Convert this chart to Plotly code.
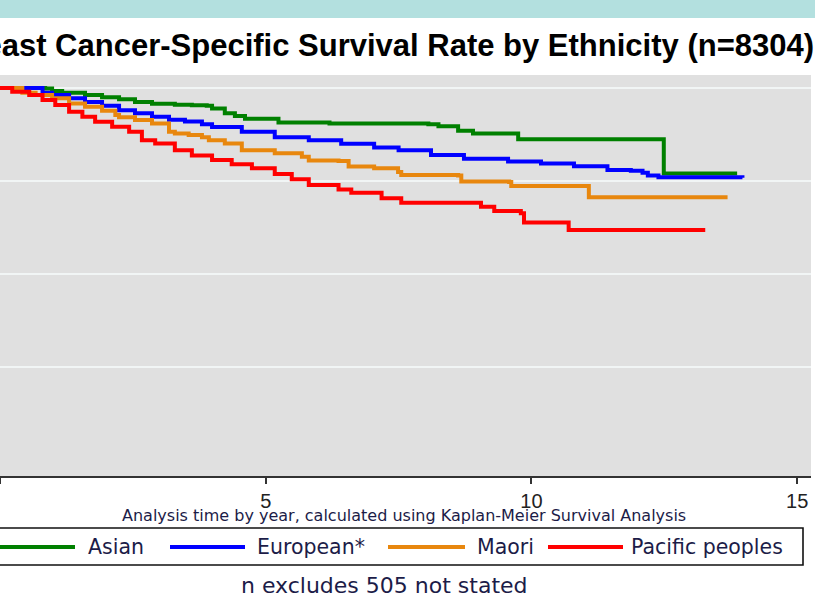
import plotly.graph_objects as go

# ---------------- data ----------------
series_names = ["Asian", "European*", "Maori", "Pacific peoples"]
series_colors = ["#008000", "#0000ff", "#e8870e", "#ff0000"]

asian_t = [0, 0.85, 0.98, 1.17, 1.60, 1.92, 2.24, 2.54, 2.86, 3.29, 3.61, 3.89, 3.99, 4.23,
           4.42, 4.61, 5.24, 6.20, 8.06, 8.25, 8.62, 8.90, 9.75, 12.49, 13.87]
asian_s = [1.000, 0.9995, 0.9968, 0.995, 0.9925, 0.990, 0.988, 0.985, 0.983, 0.982, 0.9815,
           0.981, 0.978, 0.973, 0.970, 0.967, 0.963, 0.962, 0.961, 0.959, 0.954, 0.951,
           0.945, 0.908, 0.908]

european_t = [0, 0.80, 0.98, 1.30, 1.60, 1.92, 2.24, 2.54, 2.86, 3.18, 3.48, 3.80, 3.99,
              4.55, 5.17, 5.81, 6.42, 7.04, 7.50, 8.11, 8.73, 9.56, 10.18, 10.80, 11.43,
              11.87, 12.09, 12.19, 12.39, 13.97]
european_s = [1.000, 0.995, 0.9925, 0.989, 0.985, 0.981, 0.976, 0.973, 0.969, 0.966, 0.964,
              0.961, 0.958, 0.953, 0.947, 0.944, 0.940, 0.936, 0.933, 0.928, 0.924, 0.921,
              0.919, 0.916, 0.912, 0.911, 0.909, 0.906, 0.904, 0.9035]

maori_t = [0, 0.42, 0.67, 0.98, 1.30, 1.60, 1.92, 2.17, 2.24, 2.54, 2.86, 3.18, 3.29, 3.55,
           3.80, 3.93, 4.23, 4.55, 5.17, 5.68, 5.81, 6.37, 6.56, 7.04, 7.49, 7.55, 8.62,
           8.68, 9.58, 9.62, 11.08, 13.69]
maori_s = [1.000, 0.995, 0.9925, 0.989, 0.9835, 0.980, 0.9756, 0.971, 0.9685, 0.9656,
           0.962, 0.953, 0.951, 0.9495, 0.947, 0.944, 0.9405, 0.933, 0.930, 0.926, 0.922,
           0.9215, 0.9156, 0.9137, 0.9097, 0.9065, 0.906, 0.8995, 0.899, 0.8946, 0.8825,
           0.8825]

pacific_t = [0, 0.23, 0.55, 0.80, 1.04, 1.30, 1.55, 1.79, 2.11, 2.43, 2.67, 2.92, 3.29,
             3.61, 3.99, 4.36, 4.74, 5.17, 5.49, 5.81, 6.37, 6.61, 7.18, 7.55, 9.05, 9.30,
             9.80, 9.86, 10.70, 13.27]
pacific_s = [1.000, 0.996, 0.9925, 0.987, 0.9817, 0.9745, 0.969, 0.9638, 0.9584, 0.953,
             0.944, 0.9405, 0.933, 0.9274, 0.9226, 0.918, 0.9137, 0.9075, 0.902, 0.8957,
             0.8909, 0.8874, 0.8814, 0.8767, 0.8724, 0.8677, 0.8653, 0.8554, 0.8473, 0.8473]

series_t = [asian_t, european_t, maori_t, pacific_t]
series_s = [asian_s, european_s, maori_s, pacific_s]

x_tick_vals = [0, 5, 10, 15]
x_tick_text = ["0", "5", "10", "15"]
y_grid_vals = [0.7, 0.8, 0.9, 1.0]

title_text = "Breast Cancer-Specific Survival Rate by Ethnicity (n=8304)"
xaxis_text = "Analysis time by year, calculated using Kaplan-Meier Survival Analysis"
footer_text = "n excludes 505 not stated"

# ---------------- layout geometry ----------------
W, H = 815, 594
ML, MR, MT, MB = 0, 4, 75, 118
PW = W - ML - MR
PH = H - MT - MB


def px2x(px):
    return (px - ML) / PW


def py2y(py):
    return (H - MB - py) / PH


TEXT_COL = "#1c1c48"
FONT = "Liberation Sans, Arial, sans-serif"
WIDE = "DejaVu Sans, Verdana, sans-serif"

fig = go.Figure()
for name, col, t, s in zip(series_names, series_colors, series_t, series_s):
    fig.add_trace(go.Scatter(
        x=t, y=s, mode="lines", name=name,
        line=dict(color=col, width=4, shape="hv"),
        showlegend=False, hoverinfo="skip",
    ))

shapes = [
    # cyan band at the very top
    dict(type="rect", xref="paper", yref="paper",
         x0=px2x(-10), x1=px2x(W + 10), y0=py2y(18), y1=py2y(-5),
         fillcolor="#b3e0df", line=dict(width=0), layer="below"),
    # legend box
    dict(type="rect", xref="paper", yref="paper",
         x0=px2x(-6), x1=px2x(803), y0=py2y(565), y1=py2y(528),
         fillcolor="white", line=dict(color="#111111", width=1.6)),
]

annotations = [
    dict(text="<b>" + title_text + "</b>", xref="paper", yref="paper",
         x=px2x(816), y=py2y(45), xanchor="right", yanchor="middle",
         showarrow=False, font=dict(family=FONT, size=31, color="#000000")),
    dict(text=xaxis_text, xref="paper", yref="paper",
         x=px2x(404), y=py2y(515), xanchor="center", yanchor="middle",
         showarrow=False, font=dict(family=WIDE, size=16, color=TEXT_COL)),
    dict(text=footer_text, xref="paper", yref="paper",
         x=px2x(384), y=py2y(585), xanchor="center", yanchor="middle",
         showarrow=False, font=dict(family=WIDE, size=22, color=TEXT_COL)),
]

# manual legend (long line samples like the original)
legend_line_px = [(-6, 75), (170, 245), (388, 465), (548, 623)]
legend_text_px = [86, 255, 475, 629]
LEG_Y = 547
for name, col, (a, b), tx in zip(series_names, series_colors, legend_line_px, legend_text_px):
    shapes.append(dict(type="line", xref="paper", yref="paper",
                       x0=px2x(a), x1=px2x(b), y0=py2y(LEG_Y), y1=py2y(LEG_Y),
                       line=dict(color=col, width=4)))
    annotations.append(dict(text=name, xref="paper", yref="paper",
                            x=px2x(tx), y=py2y(LEG_Y), xanchor="left", yanchor="middle",
                            showarrow=False, font=dict(family=WIDE, size=20.5, color=TEXT_COL)))

fig.update_layout(
    width=W, height=H,
    margin=dict(l=ML, r=MR, t=MT, b=MB, pad=0),
    paper_bgcolor="white", plot_bgcolor="#e0e0e0",
    shapes=shapes, annotations=annotations,
    xaxis=dict(range=[0, 15.26], tickvals=x_tick_vals, ticktext=x_tick_text,
               showgrid=False, zeroline=False, showline=True, linecolor="#333333",
               linewidth=2, ticks="outside", ticklen=6, tickwidth=2, tickcolor="#333333",
               tickfont=dict(family=FONT, size=20, color="#222222")),
    yaxis=dict(range=[0.583, 1.014], tickvals=y_grid_vals, showticklabels=False,
               showgrid=True, gridcolor="#f1f5f5", gridwidth=1.5, zeroline=False,
               showline=False, ticks=""),
)

fig.write_html("out.html", config={"displayModeBar": False},
               post_script="document.body.style.margin='0';document.body.style.overflow='hidden';")
